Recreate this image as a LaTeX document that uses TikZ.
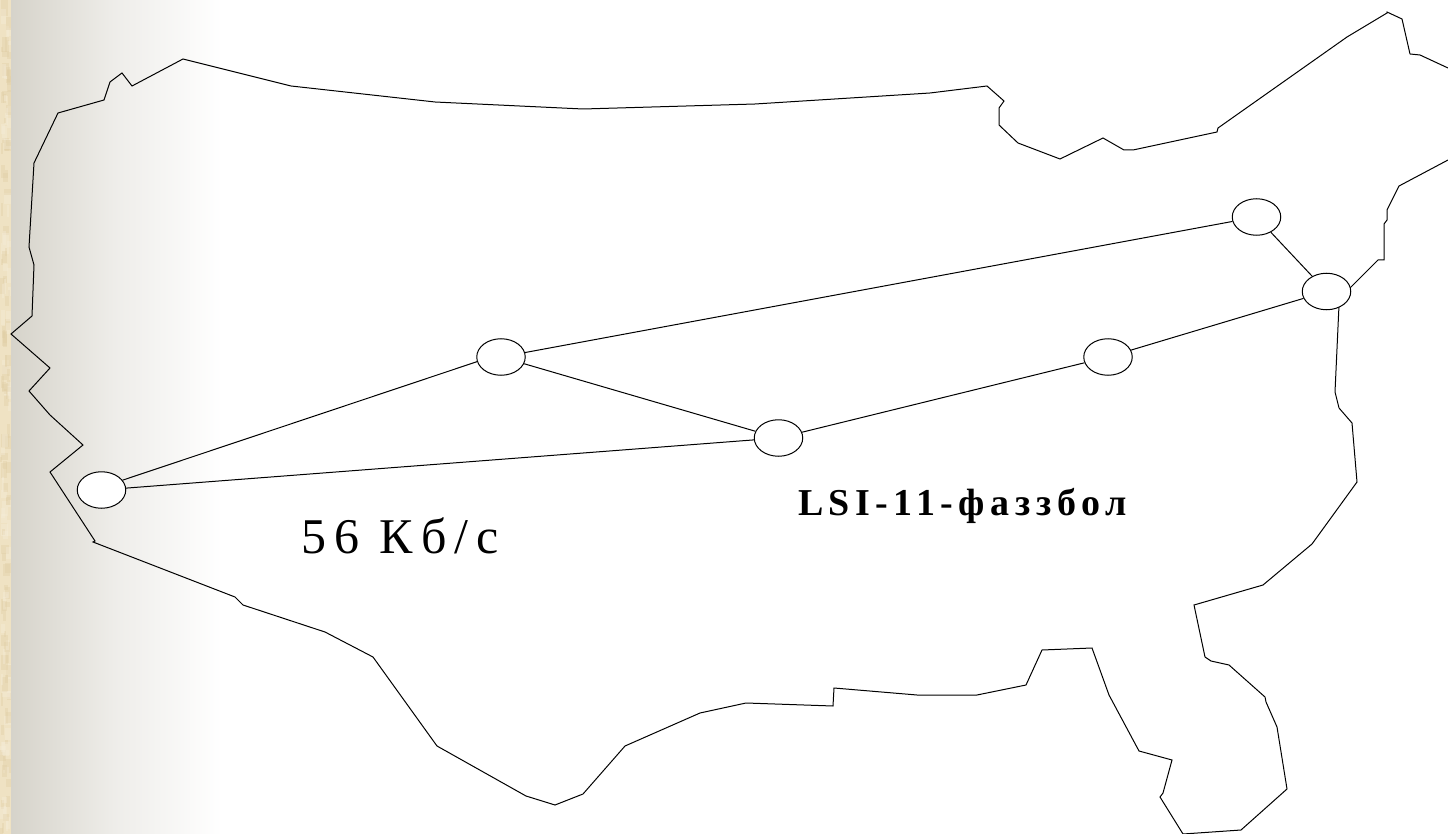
\documentclass[tikz,border=0pt]{standalone}
\usepackage{fontspec}
\setmainfont{Liberation Serif}
\usetikzlibrary{shapes.geometric}
\definecolor{parch}{HTML}{EFE2C3}
\definecolor{parchd}{HTML}{E0CDA3}
\definecolor{parchl}{HTML}{F6EEDA}
\definecolor{bandgray}{HTML}{D6D3CA}
\tikzset{
  site/.style={ellipse,draw=black,fill=white,line width=1pt,minimum width=48.5pt,minimum height=36.5pt,inner sep=0pt},
  link/.style={draw=black,line width=1pt},
  coast/.style={draw=black,line width=1pt,line join=miter},
}
\pgfmathsetseed{7}
\begin{document}
\begin{tikzpicture}[x=1pt,y=-1pt]
\useasboundingbox (0,0) rectangle (1448,834);
\fill[white] (0,0) rectangle (1448,834);
\shade[left color=bandgray,right color=white,shading angle=90,middle color=bandgray!40!white] (11,0) rectangle (222,834);
\fill[parch] (0,0) rectangle (11,834);
\foreach \i in {1,...,170}{
  \pgfmathsetmacro{\py}{rnd*830}
  \pgfmathsetmacro{\px}{rnd*8}
  \pgfmathsetmacro{\pw}{2+rnd*6}
  \pgfmathsetmacro{\ph}{4+rnd*12}
  \pgfmathparse{rnd<0.55?"parchd":"parchl"}
  \fill[\pgfmathresult,opacity=0.35] (\px,\py) rectangle ({min(\px+\pw,11)},\py+\ph);
}
\draw[coast] (34,163) -- (58,113) -- (104,100) -- (110,82) -- (122,73) -- (132,86) -- (183,59) -- (291,86) -- (300,87) -- (435,102) -- (583,109) -- (755,104) -- (930,93) -- (987,86) -- (1004,101) -- (999,108) -- (999,125) -- (1018,143) -- (1060,159) -- (1103,138) -- (1124,150) -- (1133,150) -- (1217,132) -- (1218,128) -- (1347,37) -- (1387,13) -- (1387,12) -- (1402,19) -- (1410,54) -- (1420,55) -- (1448,68);
\draw[coast] (1448,160) -- (1399,186) -- (1387,210) -- (1387,220) -- (1384,224) -- (1384,260) -- (1378,260) -- (1350,288) -- (1339,305) -- (1335,392) -- (1339,408) -- (1352,423) -- (1357,482) -- (1312,544) -- (1263,585) -- (1194,605) -- (1205,657) -- (1211,661) -- (1229,665) -- (1265,697) -- (1266,702) -- (1277,727) -- (1287,789) -- (1241,830) -- (1183,834) -- (1160,797) -- (1163,793) -- (1172,760) -- (1139,751) -- (1109,695) -- (1092,648) -- (1042,650) -- (1026,685) -- (977,695) -- (917,695) -- (834,688) -- (833,706) -- (746,703) -- (700,713) -- (625,746) -- (583,794) -- (555,805) -- (526,796) -- (437,746) -- (373,657) -- (325,632) -- (243,605) -- (235,597) -- (93,542) -- (95,541) -- (50,472) -- (83,445) -- (50,415) -- (29,391) -- (50,368) -- (11,334) -- (32,316) -- (34,265) -- (29,247) -- (34,163);
\node[site] (a) at (101.5,490) {};
\node[site] (b) at (501,357) {};
\node[site] (c) at (778.5,438) {};
\node[site] (d) at (1108,357) {};
\node[site] (e) at (1256.5,217) {};
\node[site] (f) at (1326.5,291.5) {};
\draw[link] (a.25) -- (b.191);
\draw[link] (a) -- (c);
\draw[link] (b) -- (c);
\draw[link] (b) -- (e);
\draw[link] (c) -- (d);
\draw[link] (d) -- (f);
\draw[link] (e) -- (f);
\node[anchor=base west,inner sep=0pt,font=\fontsize{50}{50}\selectfont\addfontfeature{LetterSpace=16}] (speed) at (301,553) {56 Кб/с};
\node[anchor=base west,inner sep=0pt,font=\fontsize{38}{38}\selectfont\bfseries\addfontfeature{LetterSpace=14.4}] (router) at (798,515) {LSI-11-фаззбол};
\end{tikzpicture}
\end{document}
